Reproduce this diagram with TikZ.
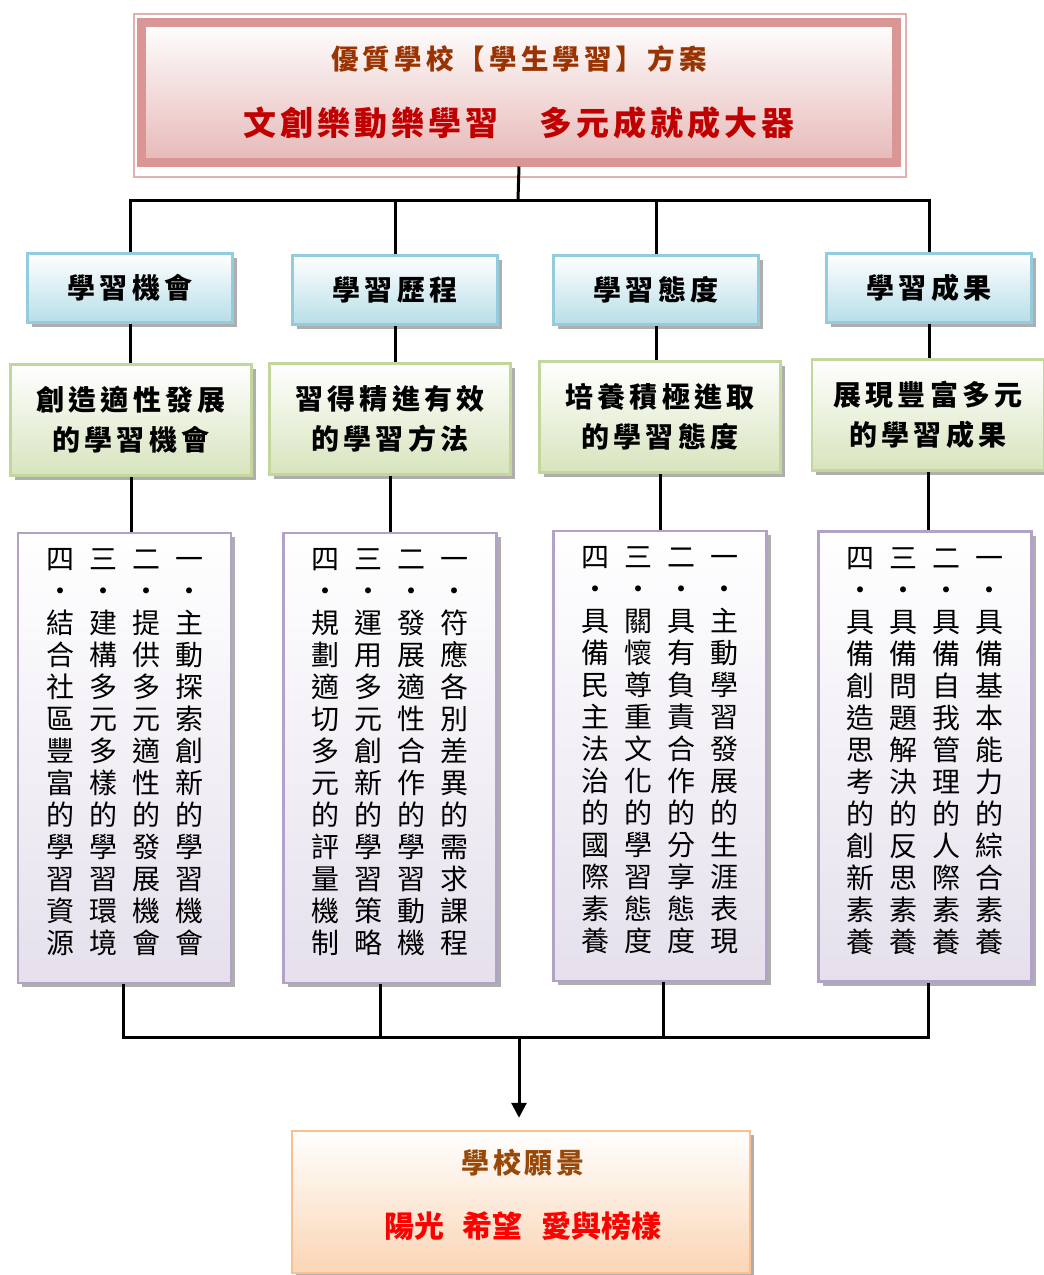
\documentclass[tikz,border=0pt]{standalone}
\usepackage{fontspec}
\setmainfont{Noto Sans CJK TC}
\newfontfamily\spaced{Noto Sans CJK TC}[LetterSpace=15]
\newfontfamily\spacedwide{Noto Sans CJK TC}[LetterSpace=12]
\usetikzlibrary{shadows,arrows.meta}

\definecolor{pinkband}{HTML}{D99694}
\definecolor{pinkfill}{HTML}{E6B9B8}
\definecolor{bluedge}{HTML}{93CDDD}
\definecolor{bluefill}{HTML}{B7DEE8}
\definecolor{greenedge}{HTML}{C3D69B}
\definecolor{greenfill}{HTML}{D7E4BD}
\definecolor{lilacedge}{HTML}{B3A2C7}
\definecolor{lilacfill}{HTML}{E5E0EC}
\definecolor{peachedge}{HTML}{FAC090}
\definecolor{peachfill}{HTML}{FBD5B5}
\definecolor{titlebrown}{HTML}{993300}
\definecolor{titlered}{HTML}{C00000}
\definecolor{visionbrown}{HTML}{984807}

% one character per row, top to bottom
\makeatletter
\def\vcol@stop{\vcol@stop}
\newcommand\vcolumn[1]{\vbox{\offinterlineskip\expandafter\vcol@next#1\vcol@stop}}
\def\vcol@next#1{\ifx#1\vcol@stop\else
  \hbox to 40pt{\hss\vrule height 26.6pt depth 5.4pt width 0pt #1\hss}%
  \expandafter\vcol@next\fi}
\makeatother

\tikzset{
  box/.style={rectangle, inner sep=0pt, align=center, top color=white,
    drop shadow={shadow xshift=4pt, shadow yshift=-4pt, fill=black!45, opacity=.7}},
  aspect/.style={box, draw=bluedge, line width=2.5pt, bottom color=bluefill,
    minimum width=205pt, minimum height=69pt, font=\spaced\bfseries\fontsize{28}{34}\selectfont},
  goal/.style={box, draw=greenedge, line width=2.5pt, bottom color=greenfill,
    minimum width=241pt, minimum height=111pt, font=\spaced\bfseries\fontsize{28}{40}\selectfont},
  itemlist/.style={box, draw=lilacedge, line width=2.5pt, bottom color=lilacfill,
    minimum width=213pt, minimum height=450pt},
  column/.style={inner sep=0pt, anchor=north, font=\fontsize{28}{32}\selectfont},
  link/.style={line width=3pt},
}

\begin{document}
\begin{tikzpicture}[x=1pt, y=-1pt]
  \useasboundingbox (0,0) rectangle (1044,1275);

  % plan
  \draw[pinkband!75, line width=1.2pt] (134,14) rectangle (906,177);
  \node[box, draw=pinkband, line width=9pt, bottom color=pinkfill,
    minimum width=755pt, minimum height=140pt, font=\bfseries\fontsize{27.5}{66}\selectfont] (plan) at (519,92)
    {\textcolor{titlebrown}{\spaced 優質學校【學生學習】方案}\\
     {\spacedwide\fontsize{33}{66}\selectfont\color{titlered}文創樂動樂學習　多元成就成大器}};

  % four aspects
  \node[aspect] (chance) at (130,288) {學習機會};
  \node[aspect] (journey) at (395,290) {學習歷程};
  \node[aspect] (attitude) at (656,290) {學習態度};
  \node[aspect] (result) at (929,288) {學習成果};

  \node[goal] (chance-goal) at (131,420) {創造適性發展\\的學習機會};
  \node[goal] (journey-goal) at (390,419) {習得精進有效\\的學習方法};
  \node[goal] (attitude-goal) at (660,417) {培養積極進取\\的學習態度};
  \node[goal, minimum width=232pt] (result-goal) at (928,415) {展現豐富多元\\的學習成果};

  \node[itemlist] (chance-list) at (124.5,758) {};
  \node[itemlist] (journey-list) at (390,758) {};
  \node[itemlist] (attitude-list) at (660,756) {};
  \node[itemlist] (result-list) at (925,756.5) {};

  \foreach \boxname/\one/\two/\three/\four in {
    chance-list/一・主動探索創新的學習機會/二・提供多元適性的發展機會/三・建構多元多樣的學習環境/四・結合社區豐富的學習資源,
    journey-list/一・符應各別差異的需求課程/二・發展適性合作的學習動機/三・運用多元創新的學習策略/四・規劃適切多元的評量機制,
    attitude-list/一・主動學習發展的生涯表現/二・具有負責合作的分享態度/三・關懷尊重文化的學習態度/四・具備民主法治的國際素養,
    result-list/一・具備基本能力的綜合素養/二・具備自我管理的人際素養/三・具備問題解決的反思素養/四・具備創造思考的創新素養}
  {
    \node[column] (\boxname-1) at ([xshift=64.5pt, yshift=-11pt]\boxname.north) {\vcolumn{\one}};
    \node[column] (\boxname-2) at ([xshift=21.5pt, yshift=-11pt]\boxname.north) {\vcolumn{\two}};
    \node[column] (\boxname-3) at ([xshift=-21.5pt, yshift=-11pt]\boxname.north) {\vcolumn{\three}};
    \node[column] (\boxname-4) at ([xshift=-64.5pt, yshift=-11pt]\boxname.north) {\vcolumn{\four}};
  }

  % vision
  \node[box, draw=peachedge, line width=2.5pt, bottom color=peachfill,
    minimum width=458pt, minimum height=142pt] (vision) at (521,1202) {};
  \node[font=\spacedwide\bfseries\fontsize{28}{34}\selectfont, text=visionbrown] (vision-title) at (523,1163) {學校願景};
  \node[font=\bfseries\fontsize{30}{34}\selectfont, text=red] (vision-motto) at (523,1226)
    {陽光\hspace{18pt}希望\hspace{20pt}愛與榜樣};

  % connectors
  \coordinate (topbus) at (518,200);
  \coordinate (lowbus) at (519,1037);
  \draw[link] (plan.south) -- (topbus);
  \foreach \n/\dx in {chance/-1.5,journey/-10,attitude/3,result/3} {
    \draw[link] (\n.north) |- (topbus);
    \draw[link] (\n.south) -- (\n.south |- \n-goal.north);
    \draw[link] (\n-goal.south) -- (\n-goal.south |- \n-list.north);
    \draw[link] ([xshift=\dx pt]\n-list.south) |- (lowbus);
  }
  \draw[link, -{Triangle[length=15pt, width=15pt]}, shorten >=12pt] (lowbus) -- (lowbus |- vision.north);
\end{tikzpicture}
\end{document}
